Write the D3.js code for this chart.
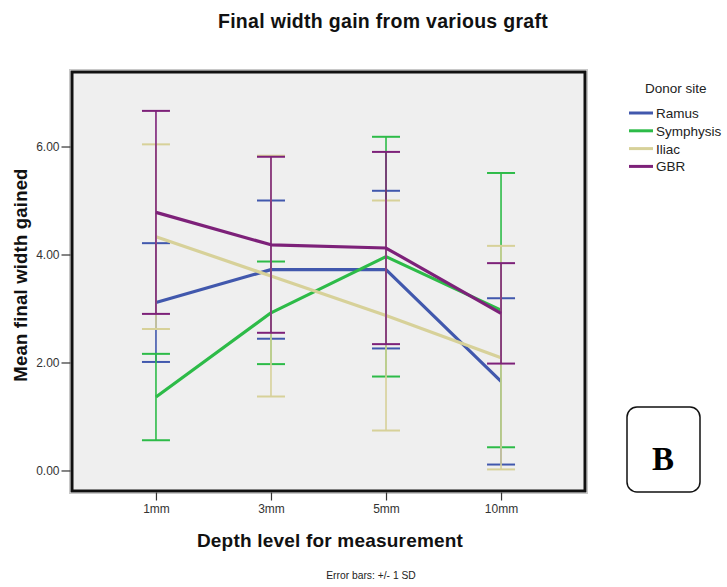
<!DOCTYPE html>
<html>
<head>
<meta charset="utf-8">
<script src="https://cdn.jsdelivr.net/npm/d3@7"></script>
<style>
  html, body { margin: 0; padding: 0; background: #fff; }
  svg { display: block; }
</style>
</head>
<body>
<script>
// ---- data ----
const categories = ["1mm", "3mm", "5mm", "10mm"];
const seriesNames = ["Ramus", "Symphysis", "Iliac", "GBR"];
const seriesColors = ["#4158ad", "#2dbb48", "#d7d199", "#7d2179"];
const ramusMean = [3.11, 3.72, 3.72, 1.65];
const ramusSD = [1.10, 1.28, 1.46, 1.54];
const symphysisMean = [1.36, 2.92, 3.96, 2.97];
const symphysisSD = [0.80, 0.95, 2.22, 2.54];
const iliacMean = [4.33, 3.60, 2.87, 2.09];
const iliacSD = [1.71, 2.23, 2.13, 2.07];
const gbrMean = [4.78, 4.18, 4.12, 2.91];
const gbrSD = [1.88, 1.63, 1.78, 0.93];
const yTicks = [0, 2, 4, 6];

const means = [ramusMean, symphysisMean, iliacMean, gbrMean];
const sds = [ramusSD, symphysisSD, iliacSD, gbrSD];

const W = 727, H = 587;
const plot = { left: 72, top: 72, right: 585, bottom: 491 };
const SANS = "'Liberation Sans', Arial, sans-serif";

const svg = d3.select("body").append("svg").attr("width", W).attr("height", H)
  .style("font-family", SANS);

const x = d3.scalePoint().domain(categories)
  .range([plot.left, plot.right]).padding(0.73);
const y = d3.scaleLinear().domain([-0.38, 7.38]).range([plot.bottom, plot.top]);

// plot background
svg.append("rect")
  .attr("x", plot.left - 2.5).attr("y", plot.top - 2.5)
  .attr("width", plot.right - plot.left + 5).attr("height", plot.bottom - plot.top + 5)
  .attr("fill", "none").attr("stroke", "#c8c8c8").attr("stroke-width", 1);
svg.append("rect")
  .attr("x", plot.left).attr("y", plot.top)
  .attr("width", plot.right - plot.left).attr("height", plot.bottom - plot.top)
  .attr("fill", "#efefef");

// series
const capHalf = 14;
seriesNames.forEach((name, si) => {
  const g = svg.append("g");
  const col = seriesColors[si];
  const m = means[si], s = sds[si];
  categories.forEach((c, i) => {
    const cx = x(c);
    const top = y(m[i] + s[i]), bot = y(m[i] - s[i]);
    g.append("line").attr("x1", cx).attr("x2", cx).attr("y1", top).attr("y2", bot)
      .attr("stroke", col).attr("stroke-width", 1.6);
    [top, bot].forEach(yy => {
      g.append("line").attr("x1", cx - capHalf).attr("x2", cx + capHalf)
        .attr("y1", yy).attr("y2", yy).attr("stroke", col).attr("stroke-width", 2);
    });
  });
  const line = d3.line().x((d, i) => x(categories[i])).y(d => y(d));
  g.append("path").datum(m).attr("d", line).attr("fill", "none")
    .attr("stroke", col).attr("stroke-width", 3.2).attr("stroke-linejoin", "round");
});

// frame
svg.append("rect")
  .attr("x", plot.left).attr("y", plot.top)
  .attr("width", plot.right - plot.left).attr("height", plot.bottom - plot.top)
  .attr("fill", "none").attr("stroke", "#111").attr("stroke-width", 3);

// y axis ticks
const yAxis = d3.axisLeft(y).tickValues(yTicks).tickFormat(d3.format(".2f")).tickSize(9).tickPadding(2);
const ya = svg.append("g").attr("transform", `translate(${plot.left - 1.5},0)`).call(yAxis);
ya.select(".domain").remove();
ya.selectAll("line").attr("stroke", "#333").attr("stroke-width", 1.2);
ya.selectAll("text").style("font-size", "12px").style("font-family", SANS).attr("fill", "#333");

// x axis ticks
const xAxis = d3.axisBottom(x).tickSize(8).tickPadding(4);
const xa = svg.append("g").attr("transform", `translate(0,${plot.bottom + 1.5})`).call(xAxis);
xa.select(".domain").remove();
xa.selectAll("line").attr("stroke", "#333").attr("stroke-width", 1.2);
xa.selectAll("text").style("font-size", "12px").style("font-family", SANS).attr("fill", "#333");

// titles
svg.append("text").attr("x", 383).attr("y", 28).attr("text-anchor", "middle")
  .style("font-size", "19.5px").style("font-weight", "bold").attr("fill", "#111")
  .style("letter-spacing", "0.3px")
  .text("Final width gain from various graft");
svg.append("text").attr("x", 330).attr("y", 547).attr("text-anchor", "middle")
  .style("font-size", "19px").style("font-weight", "bold").attr("fill", "#111")
  .style("letter-spacing", "0.2px")
  .text("Depth level for measurement");
svg.append("text").attr("transform", "translate(27,275) rotate(-90)")
  .attr("text-anchor", "middle")
  .style("font-size", "18.5px").style("font-weight", "bold").attr("fill", "#111")
  .style("letter-spacing", "0.2px")
  .text("Mean final width gained");
svg.append("text").attr("x", 371).attr("y", 579).attr("text-anchor", "middle")
  .style("font-size", "10.3px").attr("fill", "#222")
  .text("Error bars: +/- 1 SD");

// legend
svg.append("text").attr("x", 645).attr("y", 93).attr("text-anchor", "start")
  .style("font-size", "13.5px").attr("fill", "#222").text("Donor site");
const lg = svg.append("g");
seriesNames.forEach((name, i) => {
  const yy = 113 + i * 17.8;
  lg.append("line").attr("x1", 629).attr("x2", 653).attr("y1", yy).attr("y2", yy)
    .attr("stroke", seriesColors[i]).attr("stroke-width", 3);
  lg.append("text").attr("x", 656).attr("y", yy + 5).style("font-size", "13.5px")
    .attr("fill", "#222").text(name);
});

// B panel label
svg.append("rect").attr("x", 627).attr("y", 407).attr("width", 73).attr("height", 85)
  .attr("rx", 10).attr("ry", 10).attr("fill", "#fff").attr("stroke", "#111").attr("stroke-width", 1.5);
svg.append("text").attr("x", 663).attr("y", 470).attr("text-anchor", "middle")
  .style("font-family", "'Liberation Serif', 'Times New Roman', serif")
  .style("font-size", "33px").style("font-weight", "bold").attr("fill", "#000").text("B");
</script>
</body>
</html>
